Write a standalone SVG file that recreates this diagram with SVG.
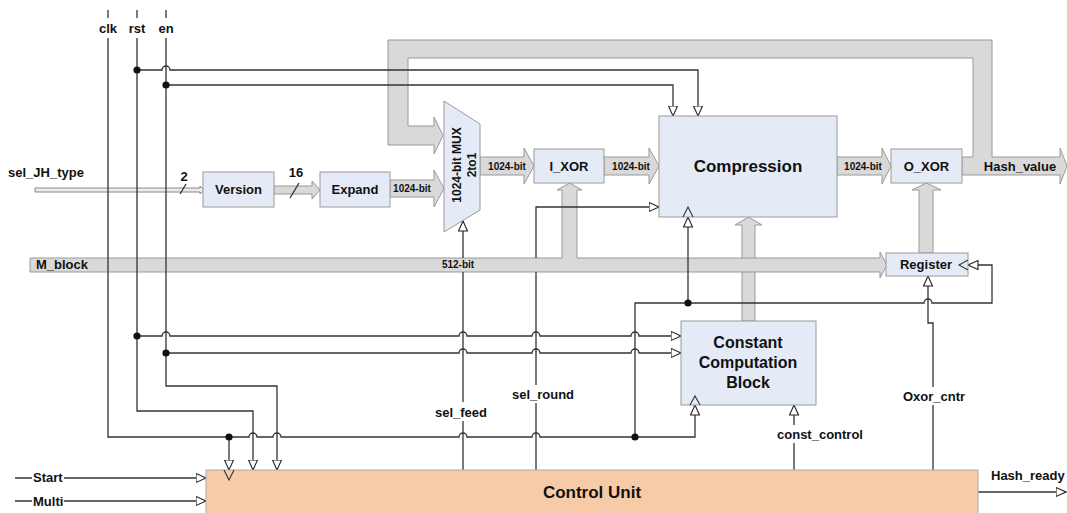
<svg xmlns="http://www.w3.org/2000/svg" width="1067" height="513" viewBox="0 0 1067 513">
<style>
text{font-family:"Liberation Sans",Arial,sans-serif;font-weight:bold;fill:#111}
.box{fill:#e5ebf6;stroke:#9a9a9a;stroke-width:1}
.cu{fill:#f8cba8;stroke:#aaa;stroke-width:1}
.bus{fill:#d9d9d9;stroke:#999;stroke-width:1}
.ln{fill:none;stroke:#333;stroke-width:1.3}
.ar{marker-end:url(#ah)}
.ch{fill:none;stroke:#333;stroke-width:1.1}
.t13{font-size:13px}
.t10{font-size:10px}
.big{font-size:17px}
.mid{font-size:16px}
.c{text-anchor:middle}
</style>
<defs>
<marker id="ah" markerWidth="12" markerHeight="11" refX="10.5" refY="5" orient="auto" markerUnits="userSpaceOnUse">
<path d="M0.5,0.5 L10.5,5 L0.5,9.5 Z" fill="#fff" stroke="#222" stroke-width="1.1"/>
</marker>
</defs>
<rect width="1067" height="513" fill="#fff"/>

<g id="connectors">
<!-- feedback bus + Hash_value -->
<path class="bus" d="M962,157 H973 V58 H408 V126 H434 V117 L443,135.5 L434,154 V145 H388 V40 H992 V157 H1060 V148 L1067,166 L1060,184 V175 H962 Z"/>
<!-- Constant -> Compression bus -->
<path class="bus" d="M742,321 V225 H735 L748.5,217 L762,225 H755 V321 Z"/>
<!-- M_block bus with I_XOR branch -->
<path class="bus" d="M30,258 H562 V190 H557 L569.5,183 L582,190 H577 V258 H880 V252 L887,265 L880,278 V272 H30 Z"/>
<!-- Register -> O_XOR -->
<path class="bus" d="M919,253 V190 H912 L926.5,183 L941,190 H933 V253 Z"/>
<!-- data arrows -->
<path class="bus" d="M837,157 H882 V148 L891,166 L882,184 V175 H837 Z"/>
<path class="bus" d="M480,157 H524 V148 L534,166 L524,184 V175 H480 Z"/>
<path class="bus" d="M604,157 H649 V148 L659,166 L649,184 V175 H604 Z"/>
<path class="bus" d="M390,180 H434 V170 L444,188.5 L434,207 V197 H390 Z"/>
<path class="bus" d="M274,186 H312 V181 L320,190 L312,199 V194 H274 Z"/>
<path d="M35,188 H200 V186 L204,190 L200,194 V192 H35 Z" fill="#ececec" stroke="#888" stroke-width="1"/>
<path class="ln" d="M180,194 L186,184 M290,198 L299,183"/>

<!-- clk -->
<path class="ln" d="M108,10 V18 M108,38 V437 H249 A4,4 0 0 1 257,437 H273 A4,4 0 0 1 281,437 H459 A4,4 0 0 1 467,437 H532 A4,4 0 0 1 540,437 H695 V405" marker-end="url(#ah)"/>
<path class="ln ar" d="M229,437 V470"/>
<path class="ln" d="M635,437 V303 H924 A4,4 0 0 1 932,303 H992 V265 H968" marker-end="url(#ah)"/>
<path class="ln ar" d="M688,303 V217"/>
<!-- rst -->
<path class="ln" d="M137,10 V18 M137,38 V411 H253 V470" marker-end="url(#ah)"/>
<path class="ln ar" d="M137,70 H162 A4,4 0 0 1 170,70 H698 V116"/>
<path class="ln ar" d="M137,336 H162 A4,4 0 0 1 170,336 H459 A4,4 0 0 1 467,336 H532 A4,4 0 0 1 540,336 H631 A4,4 0 0 1 639,336 H681"/>
<!-- en -->
<path class="ln" d="M166,10 V18 M166,38 V386 H277 V470" marker-end="url(#ah)"/>
<path class="ln ar" d="M166,85 H673 V116"/>
<path class="ln ar" d="M166,353 H459 A4,4 0 0 1 467,353 H532 A4,4 0 0 1 540,353 H631 A4,4 0 0 1 639,353 H681"/>
<!-- sel_feed -->
<path class="ln" d="M463,470 V421 M463,402 V272"/>
<path class="ln ar" d="M463,258 V221"/>
<!-- sel_round -->
<path class="ln" d="M536,470 V403 M536,385 V272"/>
<path class="ln ar" d="M536,258 V207 H659"/>
<!-- const_control -->
<path class="ln" d="M794,470 V443"/>
<path class="ln ar" d="M794,425 V405"/>
<!-- Oxor_cntr -->
<path class="ln" d="M933,470 V405"/>
<path class="ln ar" d="M933,387 V323 H928 V276"/>
<!-- Start / Multi / Hash_ready -->
<path class="ln" d="M15,478 H32 M15,501 H32"/>
<path class="ln ar" d="M64,478 H206"/>
<path class="ln ar" d="M64,501 H206"/>
<path class="ln ar" d="M978,492 H1066"/>
<!-- junction dots -->
<g fill="#111">
<circle cx="137" cy="70" r="3.6"/>
<circle cx="166" cy="85" r="3.6"/>
<circle cx="137" cy="336" r="3.6"/>
<circle cx="166" cy="353" r="3.6"/>
<circle cx="229" cy="437" r="3.6"/>
<circle cx="635" cy="437" r="3.6"/>
<circle cx="688" cy="303" r="3.6"/>
</g>
</g>

<g id="node-version"><rect class="box" x="203" y="172" width="71" height="35"/><text class="t13 c" x="238.5" y="194">Version</text></g>
<g id="node-expand"><rect class="box" x="320" y="172" width="70" height="35"/><text class="t13 c" x="355" y="194">Expand</text></g>
<g id="node-mux"><path class="box" d="M444,101 L480,124 L480,210 L444,232 Z"/>
<text style="font-size:12px" class="c" transform="translate(461,165) rotate(-90)">1024-bit MUX</text>
<text style="font-size:12px" class="c" transform="translate(476,165) rotate(-90)">2to1</text></g>
<g id="node-ixor"><rect class="box" x="534" y="149" width="70" height="34"/><text class="t13 c" x="569" y="171">I_XOR</text></g>
<g id="node-compression"><rect class="box" x="659" y="116" width="178" height="101"/><text class="big c" x="748" y="172">Compression</text></g>
<g id="node-oxor"><rect class="box" x="891" y="149" width="71" height="34"/><text class="t13 c" x="926.5" y="171">O_XOR</text></g>
<g id="node-register"><rect class="box" x="886" y="253" width="82" height="23"/><text class="t13 c" x="926" y="269">Register</text></g>
<g id="node-constant"><rect class="box" x="681" y="321" width="135" height="84"/>
<text class="mid c" x="748" y="348">Constant</text><text class="mid c" x="748" y="368">Computation</text><text class="mid c" x="748" y="388">Block</text></g>
<g id="node-control"><rect class="cu" x="206" y="470" width="772" height="50"/><text class="big c" x="592" y="498">Control Unit</text></g>

<!-- clock chevrons and arrowheads drawn over boxes -->
<g id="clock-marks">
<polyline class="ch" points="224,470 229,480 234,470"/>
<polyline class="ch" points="683,217 688,207 693,217"/>
<polyline class="ch" points="690,405 695,396 700,405"/>
<polyline class="ch" points="968,260 959,265 968,270"/>
</g>

<g id="labels">
<text class="t13 c" x="108" y="33">clk</text>
<text class="t13 c" x="137" y="33">rst</text>
<text class="t13 c" x="166" y="33">en</text>
<text class="t13" x="8" y="177">sel_JH_type</text>
<text class="t13 c" x="184" y="181">2</text>
<text class="t13 c" x="296" y="177">16</text>
<text class="t10 c" x="412" y="192">1024-bit</text>
<text class="t10 c" x="507" y="170">1024-bit</text>
<text class="t10 c" x="631" y="170">1024-bit</text>
<text class="t10 c" x="863" y="170">1024-bit</text>
<text class="t13 c" x="1020" y="171">Hash_value</text>
<text class="t13" x="36" y="269">M_block</text>
<text class="t10 c" x="458" y="268">512-bit</text>
<text class="t13 c" x="461" y="417">sel_feed</text>
<text class="t13 c" x="543" y="399">sel_round</text>
<text class="t13 c" x="934" y="401">Oxor_cntr</text>
<text class="t13 c" x="820" y="439">const_control</text>
<text class="t13" x="33" y="482">Start</text>
<text class="t13" x="33" y="506">Multi</text>
<text class="t13" x="991" y="480">Hash_ready</text>
</g>
</svg>
